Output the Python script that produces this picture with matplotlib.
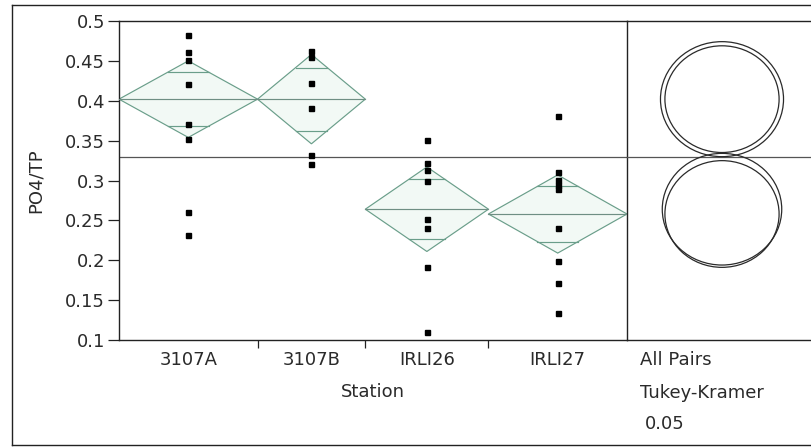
import numpy as np
import matplotlib
matplotlib.use('Agg')
from matplotlib import pyplot as plt
from matplotlib.lines import Line2D
from matplotlib.patches import Polygon, Ellipse

plt.rcParams['font.family'] = ['DejaVu Sans']
plt.rcParams['text.color'] = '#2a2a2a'
plt.rcParams['xtick.labelcolor'] = '#2a2a2a'
plt.rcParams['ytick.labelcolor'] = '#2a2a2a'

# data
stations = ['3107A', '3107B', 'IRLI26', 'IRLI27']
nObs = [9, 7, 8, 9]
pts3107A = [0.482, 0.461, 0.451, 0.421, 0.371, 0.352, 0.260, 0.232]
pts3107B = [0.462, 0.455, 0.422, 0.391, 0.332, 0.321]
ptsIRLI26 = [0.351, 0.322, 0.313, 0.299, 0.252, 0.240, 0.192, 0.110]
ptsIRLI27 = [0.381, 0.311, 0.301, 0.294, 0.289, 0.240, 0.199, 0.172, 0.134]
points = [pts3107A, pts3107B, ptsIRLI26, ptsIRLI27]
means = [0.402, 0.402, 0.264, 0.258]
ciHalf = [0.048, 0.056, 0.053, 0.049]
circleRadius = [0.0669, 0.0721, 0.0700, 0.0669]
grandMean = 0.33
yTicks = [0.1, 0.15, 0.2, 0.25, 0.3, 0.35, 0.4, 0.45, 0.5]
yTickLabels = ['0.1', '0.15', '0.2', '0.25', '0.3', '0.35', '0.4', '0.45', '0.5']

W, H = 812, 447
DIAMOND = '#6a9e8a'
AXCOL = '#222222'


def fx(px):
    return px / W


def fy(py):
    return 1 - py / H


fig = plt.figure(figsize=(W / 100, H / 100), dpi=100)
fig.patch.set_facecolor('white')

plotL, plotR, plotT, plotB = 119, 627, 21, 340
ax = fig.add_axes([fx(plotL), fy(plotB), fx(plotR - plotL), (plotB - plotT) / H])
axc = fig.add_axes([fx(plotR), fy(plotB), fx(W - plotR), (plotB - plotT) / H])

yMin, yMax = 0.1, 0.5
edges = np.concatenate([[0], np.cumsum(nObs)])
centers = (edges[:-1] + edges[1:]) / 2

for i in range(len(stations)):
    x0, x1, xc = edges[i], edges[i + 1], centers[i]
    m, h = means[i], ciHalf[i]
    diamond = Polygon([[x0, m], [xc, m + h], [x1, m], [xc, m - h]], closed=True,
                      facecolor='#f2f9f5', edgecolor=DIAMOND, lw=0.85, zorder=2)
    ax.add_patch(diamond)
    ax.plot([x0, x1], [m, m], color='#6f8f84', lw=0.85, zorder=3)
    # overlap marks
    d = h / np.sqrt(2)
    half = (x1 - x0) / 2 * (1 - d / h)
    for s in (1, -1):
        ax.plot([xc - half, xc + half], [m + s * d, m + s * d], color=DIAMOND, lw=0.85, zorder=3)
    ax.plot([xc] * len(points[i]), points[i], 's', color='black', markersize=3.6, zorder=4)

ax.axhline(grandMean, color='#555555', lw=0.9, zorder=1)
ax.set_xlim(edges[0], edges[-1])
ax.set_ylim(yMin, yMax)
ax.set_yticks(yTicks)
ax.set_yticklabels(yTickLabels)
ax.set_xticks(centers)
ax.set_xticklabels(stations)
ax.set_xticks(edges[1:-1], minor=True)
ax.tick_params(axis='y', direction='out', length=8, width=0.9, color=AXCOL, labelsize=13, pad=2)
ax.tick_params(axis='x', which='major', length=0, labelsize=13, pad=8)
ax.tick_params(axis='x', which='minor', direction='out', length=6, width=0.9, color=AXCOL)
for sp in ax.spines.values():
    sp.set_color(AXCOL)
    sp.set_linewidth(1.0)

# comparison circles
pxPerUnit = (plotB - plotT) / (yMax - yMin)
stretch = 1.07
axc.set_xlim(0, W - plotR)
axc.set_ylim(yMin, yMax)
axc.axhline(grandMean, color='#555555', lw=0.9, zorder=1)
cx = 722 - plotR
for i in range(len(stations)):
    r = circleRadius[i]
    e = Ellipse((cx, means[i]), width=2 * r * pxPerUnit * stretch, height=2 * r,
                fill=False, edgecolor='#2a2a2a', lw=0.9, zorder=3)
    axc.add_patch(e)
axc.set_xticks([])
axc.set_yticks([])
axc.spines['left'].set_visible(False)
axc.spines['right'].set_visible(False)
for sp in ('top', 'bottom'):
    axc.spines[sp].set_color(AXCOL)
    axc.spines[sp].set_linewidth(1.0)
axc.patch.set_alpha(0)

# outer frame
fig.add_artist(Line2D([fx(12), fx(12)], [fy(5), fy(445)], color=AXCOL, lw=1.0))
fig.add_artist(Line2D([fx(12), 1], [fy(5), fy(5)], color=AXCOL, lw=1.0))
fig.add_artist(Line2D([fx(12), 1], [fy(445), fy(445)], color=AXCOL, lw=1.0))

fig.text(fx(36), fy(181), 'PO4/TP', rotation=90, ha='center', va='center', fontsize=13)
fig.text(fx(373), fy(392), 'Station', ha='center', va='center', fontsize=13)
fig.text(fx(640), fy(360), 'All Pairs', ha='left', va='center', fontsize=13)
fig.text(fx(640), fy(393), 'Tukey-Kramer', ha='left', va='center', fontsize=13)
fig.text(fx(645), fy(424), '0.05', ha='left', va='center', fontsize=13)

fig.savefig('out.png', dpi=100)
